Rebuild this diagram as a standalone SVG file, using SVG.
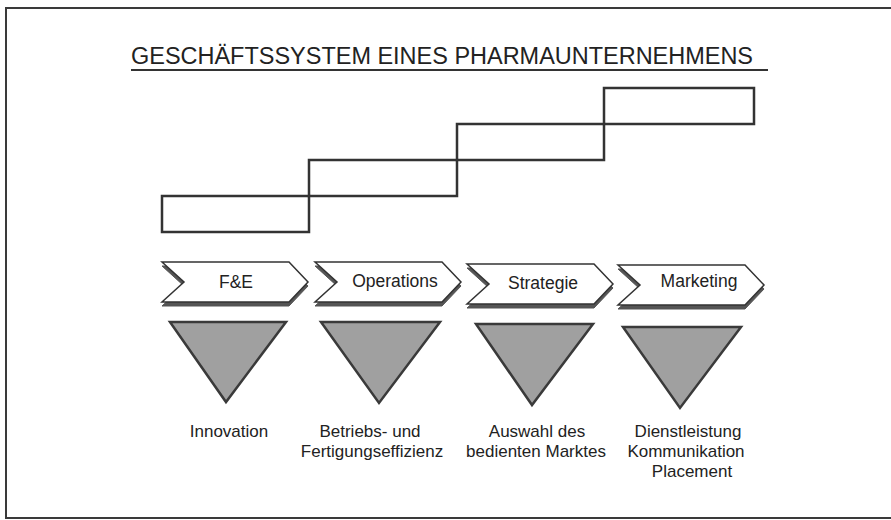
<svg xmlns="http://www.w3.org/2000/svg" width="891" height="520" viewBox="0 0 891 520">
  <style>
    .frame { fill: none; stroke: #3a3a3a; stroke-width: 2; }
    .stair { fill: none; stroke: #333; stroke-width: 2.5; }
    .chev { fill: #fff; stroke: #333; stroke-width: 1.5; stroke-linejoin: miter; }
    .chevsh { fill: #555; stroke: #555; stroke-width: 1; }
    .tri { fill: #a0a0a0; stroke: #3a3a3a; stroke-width: 2.5; stroke-linejoin: miter; }
    .title { font-family: "Liberation Sans", Arial, sans-serif; font-size: 23.5px; fill: #222; }
    .clabel { font-family: "Liberation Sans", Arial, sans-serif; font-size: 17.5px; fill: #222; text-anchor: middle; }
    .blabel { font-family: "Liberation Sans", Arial, sans-serif; font-size: 17px; fill: #222; text-anchor: middle; }
  </style>
  <defs>
    <path id="chevron" d="M0,0 H127 L146,20 L127,40 H0 L22,20 Z"/>
  </defs>
  <rect x="0" y="0" width="891" height="520" fill="#fff"/>
  <g id="frame">
    <path class="frame" d="M891,8 H6 V518 H891"/>
  </g>
  <g id="title">
    <text class="title" x="131" y="64" textLength="622" lengthAdjust="spacingAndGlyphs">GESCHÄFTSSYSTEM EINES PHARMAUNTERNEHMENS</text>
    <line x1="131" y1="70" x2="768" y2="70" stroke="#333" stroke-width="2"/>
  </g>
  <g id="staircase">
    <rect class="stair" x="162" y="196" width="147" height="36"/>
    <rect class="stair" x="309" y="160" width="148" height="36"/>
    <rect class="stair" x="457" y="124" width="147" height="36"/>
    <rect class="stair" x="604" y="88" width="150" height="36"/>
  </g>
  <g id="node-fe">
    <use href="#chevron" class="chevsh" x="162" y="266"/>
    <use href="#chevron" class="chev" x="162" y="262"/>
    <text class="clabel" x="236" y="288">F&amp;E</text>
  </g>
  <g id="node-operations">
    <use href="#chevron" class="chevsh" x="315" y="266"/>
    <use href="#chevron" class="chev" x="315" y="262"/>
    <text class="clabel" x="395" y="287">Operations</text>
  </g>
  <g id="node-strategie">
    <use href="#chevron" class="chevsh" x="467" y="268"/>
    <use href="#chevron" class="chev" x="467" y="264"/>
    <text class="clabel" x="543" y="289">Strategie</text>
  </g>
  <g id="node-marketing">
    <use href="#chevron" class="chevsh" x="618" y="269"/>
    <use href="#chevron" class="chev" x="618" y="265"/>
    <text class="clabel" x="699" y="287">Marketing</text>
  </g>
  <g id="tri-innovation">
    <polygon class="tri" points="170,322 286,322 226,402"/>
    <text class="blabel" x="229" y="437">Innovation</text>
  </g>
  <g id="tri-effizienz">
    <polygon class="tri" points="321,322 440,322 379,403"/>
    <text class="blabel" x="370" y="437">Betriebs- und</text>
    <text class="blabel" x="372" y="457">Fertigungseffizienz</text>
  </g>
  <g id="tri-markt">
    <polygon class="tri" points="476,324 593,324 532,405"/>
    <text class="blabel" x="537" y="437">Auswahl des</text>
    <text class="blabel" x="536" y="457">bedienten Marktes</text>
  </g>
  <g id="tri-marketing">
    <polygon class="tri" points="623,327 741,327 680,408"/>
    <text class="blabel" x="688" y="437">Dienstleistung</text>
    <text class="blabel" x="686" y="457">Kommunikation</text>
    <text class="blabel" x="692" y="477">Placement</text>
  </g>
</svg>
